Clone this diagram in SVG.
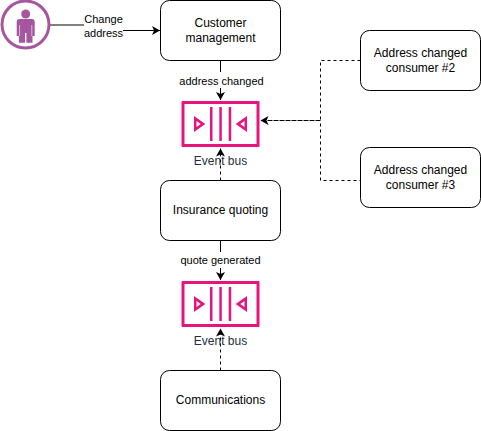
<svg xmlns="http://www.w3.org/2000/svg" width="481" height="431" viewBox="0 0 481 431">
<style>
.n{fill:#fff;stroke:#000;stroke-width:1}
.t{font-family:"Liberation Sans",Arial,sans-serif;font-size:12px;fill:#000;text-anchor:middle}
.l{font-family:"Liberation Sans",Arial,sans-serif;font-size:11px;fill:#000;text-anchor:middle}
.e{font-family:"Liberation Sans",Arial,sans-serif;font-size:12px;fill:#232f3e;text-anchor:middle}
.c{fill:none;stroke:#000;stroke-width:1}
.d{stroke-dasharray:3 3}
.p{fill:#e7157b}
</style>
<defs>
<marker id="a" markerWidth="9" markerHeight="10" refX="8" refY="5" orient="auto" markerUnits="userSpaceOnUse"><path d="M8 5L0 9.500L2 5L0 .5Z" fill="#000"/></marker>
<g id="bus">
<path class="p" fill-rule="evenodd" d="M1 0H77Q78 0 78 1V45Q78 46 77 46H1Q0 46 0 45V1Q0 0 1 0ZM3 3V43H75V3Z"/>
<rect class="p" x="28.500" y="6" width="2.500" height="34"/>
<rect class="p" x="37.800" y="6" width="2.500" height="34"/>
<rect class="p" x="47.200" y="6" width="2.500" height="34"/>
<path class="p" fill-rule="evenodd" d="M12.500 15L23.800 23L12.500 31ZM15 20V26L19.200 23Z"/>
<path class="p" fill-rule="evenodd" d="M65.500 15L54.200 23L65.500 31ZM63 20V26L58.800 23Z"/>
</g>
</defs>
<g id="connectors">
<path class="c" d="M50 25H84"/>
<path class="c" d="M123 30.500H160" marker-end="url(#a)"/>
<path class="c" d="M220.500 60.500V72"/>
<path class="c" d="M220.500 88V100" marker-end="url(#a)"/>
<path class="c d" d="M220.500 180.500V148.500" marker-end="url(#a)"/>
<path class="c" d="M220.500 240.500V252"/>
<path class="c" d="M220.500 268V280" marker-end="url(#a)"/>
<path class="c d" d="M220.500 370.500V328.500" marker-end="url(#a)"/>
<path class="c d" d="M360.500 60.500H320.500V120.500H260.500" marker-end="url(#a)"/>
<path class="c d" stroke-dashoffset="2" d="M360.500 180.500H320.500V120.500H268"/>
</g>
<g id="user">
<circle cx="25.500" cy="24.500" r="23.500" fill="#fff" stroke="#a6569f" stroke-width="3"/>
<circle cx="25.700" cy="14" r="4.500" fill="#a6569f"/>
<path fill="#a6569f" d="M19.500 19H32Q34.700 19 34.700 22V36H32.500V42.700H26.400V33H25V42.700H18.900V36H16.700V22Q16.700 19 19.500 19Z"/>
<path d="M19.600 25V36M31.800 25V36" stroke="#fff" stroke-width=".6" fill="none"/>
</g>
<g id="customer-management">
<rect class="n" x="160.500" y="0.500" width="120" height="60" rx="9"/>
<text class="t" x="220.500" y="27">Customer</text>
<text class="t" x="220.500" y="42">management</text>
</g>
<g id="consumer-2">
<rect class="n" x="360.500" y="30.500" width="120" height="60" rx="9"/>
<text class="t" x="420.500" y="57">Address changed</text>
<text class="t" x="420.500" y="72">consumer #2</text>
</g>
<g id="consumer-3">
<rect class="n" x="360.500" y="147.500" width="120" height="60" rx="9"/>
<text class="t" x="420.500" y="174">Address changed</text>
<text class="t" x="420.500" y="189">consumer #3</text>
</g>
<g id="insurance-quoting">
<rect class="n" x="160.500" y="180.500" width="120" height="60" rx="9"/>
<text class="t" x="220.500" y="214">Insurance quoting</text>
</g>
<g id="communications">
<rect class="n" x="160.500" y="370.500" width="120" height="60" rx="9"/>
<text class="t" x="220.500" y="404">Communications</text>
</g>
<g id="event-bus-1">
<use href="#bus" x="181.500" y="101"/>
<text class="e" x="220.500" y="165">Event bus</text>
</g>
<g id="event-bus-2">
<use href="#bus" x="181.500" y="281"/>
<text class="e" x="220.500" y="345">Event bus</text>
</g>
<g id="labels">
<text class="l" x="103.500" y="23">Change</text>
<text class="l" x="103.500" y="37">address</text>
<text class="l" x="221.500" y="85">address changed</text>
<text class="l" x="220.500" y="264">quote generated</text>
</g>
</svg>
